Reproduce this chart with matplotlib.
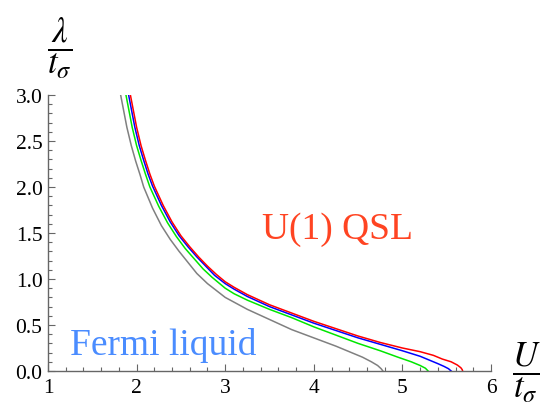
"""
Phase boundary lambda/t_sigma vs U/t_sigma: Fermi liquid vs U(1) QSL.
Recreated curves, values read off the reference figure.
"""
import matplotlib
matplotlib.use("Agg")
import matplotlib.pyplot as plt
from matplotlib.ticker import MultipleLocator

# curves as (U/t, lambda/t) points, one pair of lists per series
gray_u = [1.82, 1.85, 1.89, 1.94, 1.99, 2.04, 2.08, 2.18, 2.28, 2.38, 2.48, 2.58, 2.68, 2.80,
          3.00, 3.25, 3.50, 3.75, 4.00, 4.25, 4.40, 4.55, 4.65, 4.72, 4.76, 4.78]
gray_lam = [3.00, 2.85, 2.65, 2.45, 2.28, 2.13, 2.00, 1.77, 1.58, 1.43, 1.30, 1.18, 1.06, 0.95,
            0.80, 0.67, 0.56, 0.45, 0.36, 0.27, 0.21, 0.15, 0.10, 0.06, 0.025, 0.00]

green_u = [1.88, 1.91, 1.95, 2.00, 2.05, 2.10, 2.15, 2.25, 2.35, 2.45, 2.55, 2.65, 2.75, 2.85,
           3.00, 3.10, 3.25, 3.50, 3.75, 4.00, 4.25, 4.50, 4.75, 4.95, 5.10, 5.20, 5.26, 5.29]
green_lam = [3.00, 2.85, 2.65, 2.45, 2.29, 2.14, 2.00, 1.79, 1.61, 1.46, 1.33, 1.22, 1.11, 1.02,
             0.90, 0.84, 0.77, 0.67, 0.58, 0.48, 0.39, 0.30, 0.22, 0.15, 0.10, 0.06, 0.03, 0.00]

blue_u = [1.91, 1.94, 1.98, 2.03, 2.08, 2.13, 2.18, 2.28, 2.38, 2.48, 2.58, 2.68, 2.78, 2.88,
          3.00, 3.10, 3.25, 3.50, 3.75, 4.00, 4.25, 4.50, 4.75, 5.00, 5.20, 5.30, 5.40, 5.47,
          5.52, 5.55]
blue_lam = [3.00, 2.85, 2.65, 2.45, 2.29, 2.14, 2.01, 1.80, 1.62, 1.47, 1.35, 1.24, 1.14, 1.04,
            0.95, 0.89, 0.81, 0.70, 0.61, 0.52, 0.44, 0.36, 0.29, 0.22, 0.16, 0.12, 0.08, 0.05,
            0.025, 0.00]

red_u = [1.93, 1.96, 2.00, 2.05, 2.10, 2.15, 2.20, 2.30, 2.40, 2.50, 2.60, 2.70, 2.80, 2.90,
         3.00, 3.10, 3.25, 3.50, 3.75, 4.00, 4.25, 4.50, 4.75, 5.00, 5.20, 5.35, 5.45, 5.55,
         5.62, 5.66, 5.675, 5.68]
red_lam = [3.00, 2.85, 2.65, 2.45, 2.29, 2.14, 2.01, 1.80, 1.62, 1.47, 1.35, 1.24, 1.14, 1.05,
           0.97, 0.91, 0.83, 0.72, 0.63, 0.54, 0.46, 0.38, 0.31, 0.25, 0.21, 0.17, 0.13, 0.10,
           0.065, 0.035, 0.015, 0.00]

x_ticks = [1, 2, 3, 4, 5, 6]
y_ticks = [0.0, 0.5, 1.0, 1.5, 2.0, 2.5, 3.0]

SERIF = "Liberation Serif"
plt.rcParams["font.family"] = SERIF
plt.rcParams["mathtext.fontset"] = "stix"
plt.rcParams["xtick.labelsize"] = 15.5
plt.rcParams["ytick.labelsize"] = 15.5

W, H = 544, 410
fig = plt.figure(figsize=(W / 100, H / 100), dpi=100)
ax = fig.add_axes([48 / W, 1 - 372 / H, (491 - 48) / W, (372 - 96) / H])

lw = 1.1
ax.plot(gray_u, gray_lam, color="#808080", lw=lw)
ax.plot(green_u, green_lam, color="#00e600", lw=lw)
ax.plot(blue_u, blue_lam, color="#0000ff", lw=lw)
ax.plot(red_u, red_lam, color="#ff0000", lw=lw)

for side in ["top", "right"]:
    ax.spines[side].set_visible(False)
for side in ["left", "bottom"]:
    ax.spines[side].set_color("#666666")
    ax.spines[side].set_linewidth(1.0)
ax.tick_params(which="both", direction="in", color="#666666", width=0.8,
               labelcolor="black")
ax.tick_params(which="major", length=5)
ax.tick_params(which="minor", length=3)
ax.tick_params(axis="x", pad=5)
ax.tick_params(axis="y", pad=4)

ax.set_xlim(1, 6)
ax.set_ylim(0, 3)
ax.set_xticks(x_ticks)
ax.set_xticklabels([str(t) for t in x_ticks])
ax.set_yticks(y_ticks)
ax.set_yticklabels([f"{t:.1f}" for t in y_ticks])
ax.xaxis.set_minor_locator(MultipleLocator(0.2))
ax.yaxis.set_minor_locator(MultipleLocator(0.1))

ax.text(1.248, 0.185, "Fermi liquid", color="#4a8cff", fontsize=27,
        ha="left", va="baseline")
ax.text(3.41, 1.45, "U(1) QSL", color="#ff4422", fontsize=27,
        ha="left", va="baseline")

fig.text(60 / W, 1 - 48 / H, r"$\dfrac{\lambda}{t_\sigma}$", fontsize=25,
         ha="center", va="center")
fig.text(526 / W, 1 - 373 / H, r"$\dfrac{U}{t_\sigma}$", fontsize=25,
         ha="center", va="center")

fig.savefig("out.png", dpi=100)
